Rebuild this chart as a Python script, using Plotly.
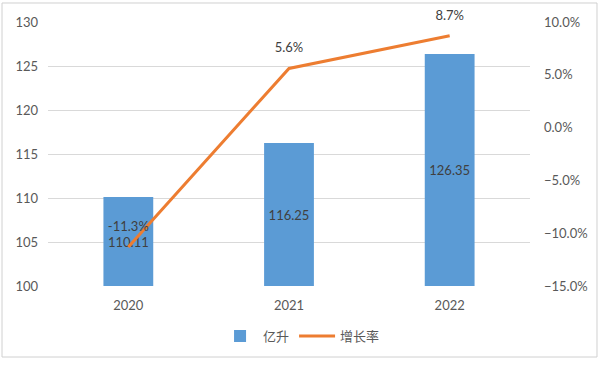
import plotly.graph_objects as go

years = ["2020", "2021", "2022"]
volume = [110.11, 116.25, 126.35]
growth = [-11.3, 5.6, 8.7]
volume_name = "亿升"
growth_name = "增长率"
axis_floor = 100

FONT = "Lato, 'Noto Sans CJK SC', sans-serif"
GREY = "#595959"

fig = go.Figure()
fig.add_trace(go.Bar(
    x=years, y=[v - axis_floor for v in volume], base=axis_floor, name=volume_name,
    marker=dict(color="#5B9BD5", line=dict(width=0)),
    width=0.31,
    text=[f"{v:.2f}" for v in volume],
    textposition="inside", insidetextanchor="middle",
    textangle=0, constraintext="none",
    textfont=dict(color="#404040", size=13, family=FONT),
    hovertext=[f"{v:.2f}" for v in volume], hoverinfo="x+text",
))
fig.add_trace(go.Scatter(
    x=years, y=growth, name=growth_name, yaxis="y2",
    mode="lines+markers+text",
    line=dict(color="#ED7D31", width=3),
    marker=dict(size=19, color="rgba(0,0,0,0)", line=dict(width=0)),
    text=[f"{g:.1f}%" for g in growth],
    textposition="top center",
    textfont=dict(color="#404040", size=13, family=FONT),
    cliponaxis=False,
))

fig.update_layout(
    width=599, height=366, autosize=False,
    margin=dict(l=48, r=69, t=22, b=80),
    plot_bgcolor="white", paper_bgcolor="white",
    font=dict(family=FONT, size=13, color=GREY),
    showlegend=True,
    legend=dict(orientation="h", x=0.525, xanchor="center", y=-0.19, yanchor="middle",
                font=dict(size=13, color=GREY), itemwidth=36, traceorder="normal"),
    xaxis=dict(showgrid=False, showline=False, ticks="", ticklabelstandoff=10,
               tickfont=dict(size=13, color=GREY)),
    yaxis=dict(range=[100, 130], dtick=5, showgrid=True, gridcolor="#D9D9D9", gridwidth=1,
               zeroline=False, showline=False, ticks="", ticklabelstandoff=9,
               tickfont=dict(size=13, color=GREY)),
    yaxis2=dict(range=[-15, 10], dtick=5, overlaying="y", side="right", showgrid=False,
                zeroline=False, showline=False, ticks="", ticksuffix="%", tickformat=".1f",
                ticklabelstandoff=13, tickfont=dict(size=13, color=GREY)),
    shapes=[dict(type="rect", xref="paper", yref="paper",
                 x0=-0.0954, x1=1.139, y0=-0.269, y1=1.072,
                 line=dict(color="#D0D0D0", width=1), layer="below")],
)

fig.write_html("out.html", config={"displayModeBar": False},
               post_script="document.body.style.margin='0';")
